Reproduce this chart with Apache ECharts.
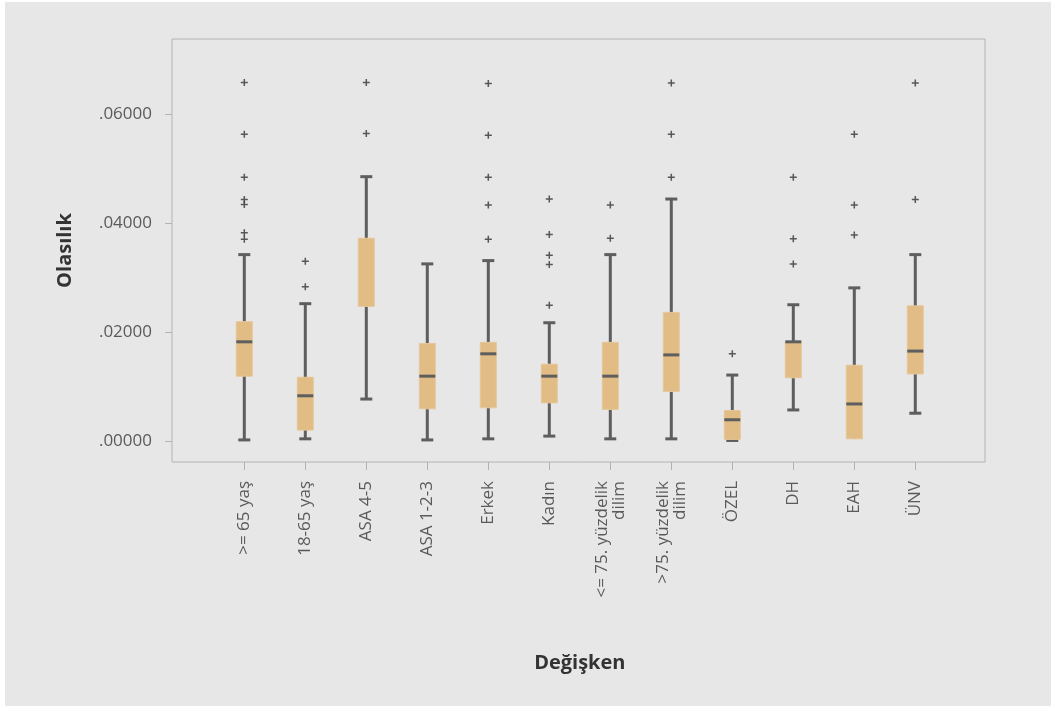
<!DOCTYPE html>
<html>
<head>
<meta charset="utf-8">
<script src="https://cdn.jsdelivr.net/npm/echarts@6/dist/echarts.min.js"></script>
<style>
  html, body { margin: 0; padding: 0; background: #ffffff; }
  #chart { position: absolute; left: 5px; top: 2px; width: 1046px; height: 704px; background: #e7e7e7; }
</style>
</head>
<body>
<div id="chart"></div>
<script>
// ---- data ----
const categories = ['>= 65 yaş', '18-65 yaş', 'ASA 4-5', 'ASA 1-2-3', 'Erkek', 'Kadın',
  '<= 75. yüzdelik\ndilim', '>75. yüzdelik\ndilim', 'ÖZEL', 'DH', 'EAH', 'ÜNV'];
const lows    = [0.0002, 0.0004, 0.0077, 0.0002, 0.0004, 0.0009, 0.0004, 0.0004, 0.0001, 0.0057, 0.0004, 0.0051];
const q1s     = [0.0119, 0.0020, 0.0247, 0.0059, 0.0061, 0.0070, 0.0058, 0.0091, 0.0003, 0.0116, 0.0004, 0.0123];
const medians = [0.0182, 0.0083, null,   0.0119, 0.0160, 0.0119, 0.0119, 0.0158, 0.0039, 0.0182, 0.0068, 0.0165];
const q3s     = [0.0219, 0.0117, 0.0372, 0.0179, 0.0181, 0.0141, 0.0181, 0.0236, 0.0056, 0.0182, 0.0139, 0.0248];
const highs   = [0.0342, 0.0252, 0.0485, 0.0325, 0.0331, 0.0217, 0.0342, 0.0444, 0.0121, 0.0250, 0.0281, 0.0342];
const outliers = [
  [0.0658, 0.0563, 0.0484, 0.0443, 0.0434, 0.0382, 0.0370],
  [0.0330, 0.0283],
  [0.0658, 0.0564],
  [],
  [0.0656, 0.0561, 0.0484, 0.0433, 0.0370],
  [0.0444, 0.0379, 0.0341, 0.0324, 0.0249],
  [0.0433, 0.0372],
  [0.0657, 0.0563, 0.0484],
  [0.0160],
  [0.0484, 0.0371, 0.0325],
  [0.0563, 0.0433, 0.0378],
  [0.0657, 0.0443]
];
const yTicks = [0, 0.02, 0.04, 0.06];
const yMin = -0.00385, yMax = 0.07376;

// ---- build ----
const boxData = categories.map((c, i) => [i, lows[i], q1s[i], q3s[i], highs[i]]);
const outlierData = [];
outliers.forEach((arr, i) => arr.forEach(v => outlierData.push([i, v])));

const FONT = '"Open Sans", "Noto Sans", sans-serif';
const DARK = '#5e5e5e';
const FRAME = '#b3b3b3';

function renderBox(params, api) {
  const idx = api.value(0);
  const low = api.value(1), q1 = api.value(2), q3 = api.value(3), high = api.value(4);
  const med = medians[params.dataIndex];
  const x = api.coord([idx, 0])[0];
  const yLow = api.coord([idx, low])[1];
  const yQ1 = api.coord([idx, q1])[1];
  const yQ3 = api.coord([idx, q3])[1];
  const yHigh = api.coord([idx, high])[1];
  const bw = 16, cw = 12, lw = 3;
  const children = [];
  children.push({ type: 'line', shape: { x1: x, y1: yHigh, x2: x, y2: Math.max(yLow, yQ1) }, style: { stroke: DARK, lineWidth: lw } });
  if (high > q3) children.push({ type: 'line', shape: { x1: x - cw / 2, y1: yHigh, x2: x + cw / 2, y2: yHigh }, style: { stroke: DARK, lineWidth: lw } });
  if (low < q1) children.push({ type: 'line', shape: { x1: x - cw / 2, y1: yLow, x2: x + cw / 2, y2: yLow }, style: { stroke: DARK, lineWidth: lw } });
  children.push({ type: 'rect', shape: { x: x - bw / 2, y: yQ3, width: bw, height: yQ1 - yQ3 }, style: { fill: '#e1bc85', stroke: '#e6c79a', lineWidth: 1 } });
  if (med != null) {
    const yMed = api.coord([idx, med])[1];
    children.push({ type: 'line', shape: { x1: x - bw / 2, y1: yMed, x2: x + bw / 2, y2: yMed }, style: { stroke: DARK, lineWidth: lw } });
  }
  return { type: 'group', children };
}

const chart = echarts.init(document.getElementById('chart'), null, { renderer: 'canvas' });
chart.setOption({
  backgroundColor: '#e7e7e7',
  animation: false,
  grid: [
    { left: 167, top: 37, width: 813, height: 423, show: true, borderColor: FRAME, borderWidth: 1, backgroundColor: 'transparent' },
    { left: 208.8, top: 37, width: 732, height: 423 }
  ],
  xAxis: [
    { gridIndex: 0, type: 'value', show: false, min: 0, max: 1, axisLine: { onZero: false } },
    {
      gridIndex: 1, type: 'category', data: categories, boundaryGap: true, position: 'bottom',
      axisLine: { show: false, onZero: false },
      axisTick: { show: true, alignWithLabel: true, length: 8, lineStyle: { color: FRAME } },
      axisLabel: { rotate: 90, margin: 19, fontFamily: FONT, fontSize: 17, color: '#5a5a5a', lineHeight: 17, interval: 0 },
      name: 'Değişken', nameLocation: 'middle', nameGap: 191,
      nameTextStyle: { fontFamily: FONT, fontSize: 20, fontWeight: 'bold', color: '#333333' }
    }
  ],
  yAxis: [
    {
      gridIndex: 0, type: 'value', min: yMin, max: yMax, position: 'left',
      axisLine: { show: false, onZero: false },
      splitLine: { show: false },
      axisTick: { show: true, length: 7, customValues: yTicks, lineStyle: { color: FRAME } },
      axisLabel: { customValues: yTicks, margin: 20, fontFamily: FONT, fontSize: 17, color: '#5a5a5a',
        formatter: v => v.toFixed(5).replace(/^0/, '') },
      name: 'Olasılık', nameLocation: 'middle', nameGap: 97, nameRotate: 90,
      nameTextStyle: { fontFamily: FONT, fontSize: 20, fontWeight: 'bold', color: '#333333' }
    },
    { gridIndex: 1, type: 'value', min: yMin, max: yMax, show: false, splitLine: { show: false }, axisLine: { onZero: false } }
  ],
  series: [
    {
      type: 'custom', xAxisIndex: 1, yAxisIndex: 1,
      renderItem: renderBox,
      encode: { x: 0, y: [1, 2, 3, 4] },
      data: boxData
    },
    {
      type: 'scatter', xAxisIndex: 1, yAxisIndex: 1,
      symbol: 'path://M2.75,0H4.25V7H2.75ZM0,2.75H7V4.25H0Z', symbolSize: 7,
      itemStyle: { color: '#333333' },
      data: outlierData
    }
  ]
});
</script>
</body>
</html>
